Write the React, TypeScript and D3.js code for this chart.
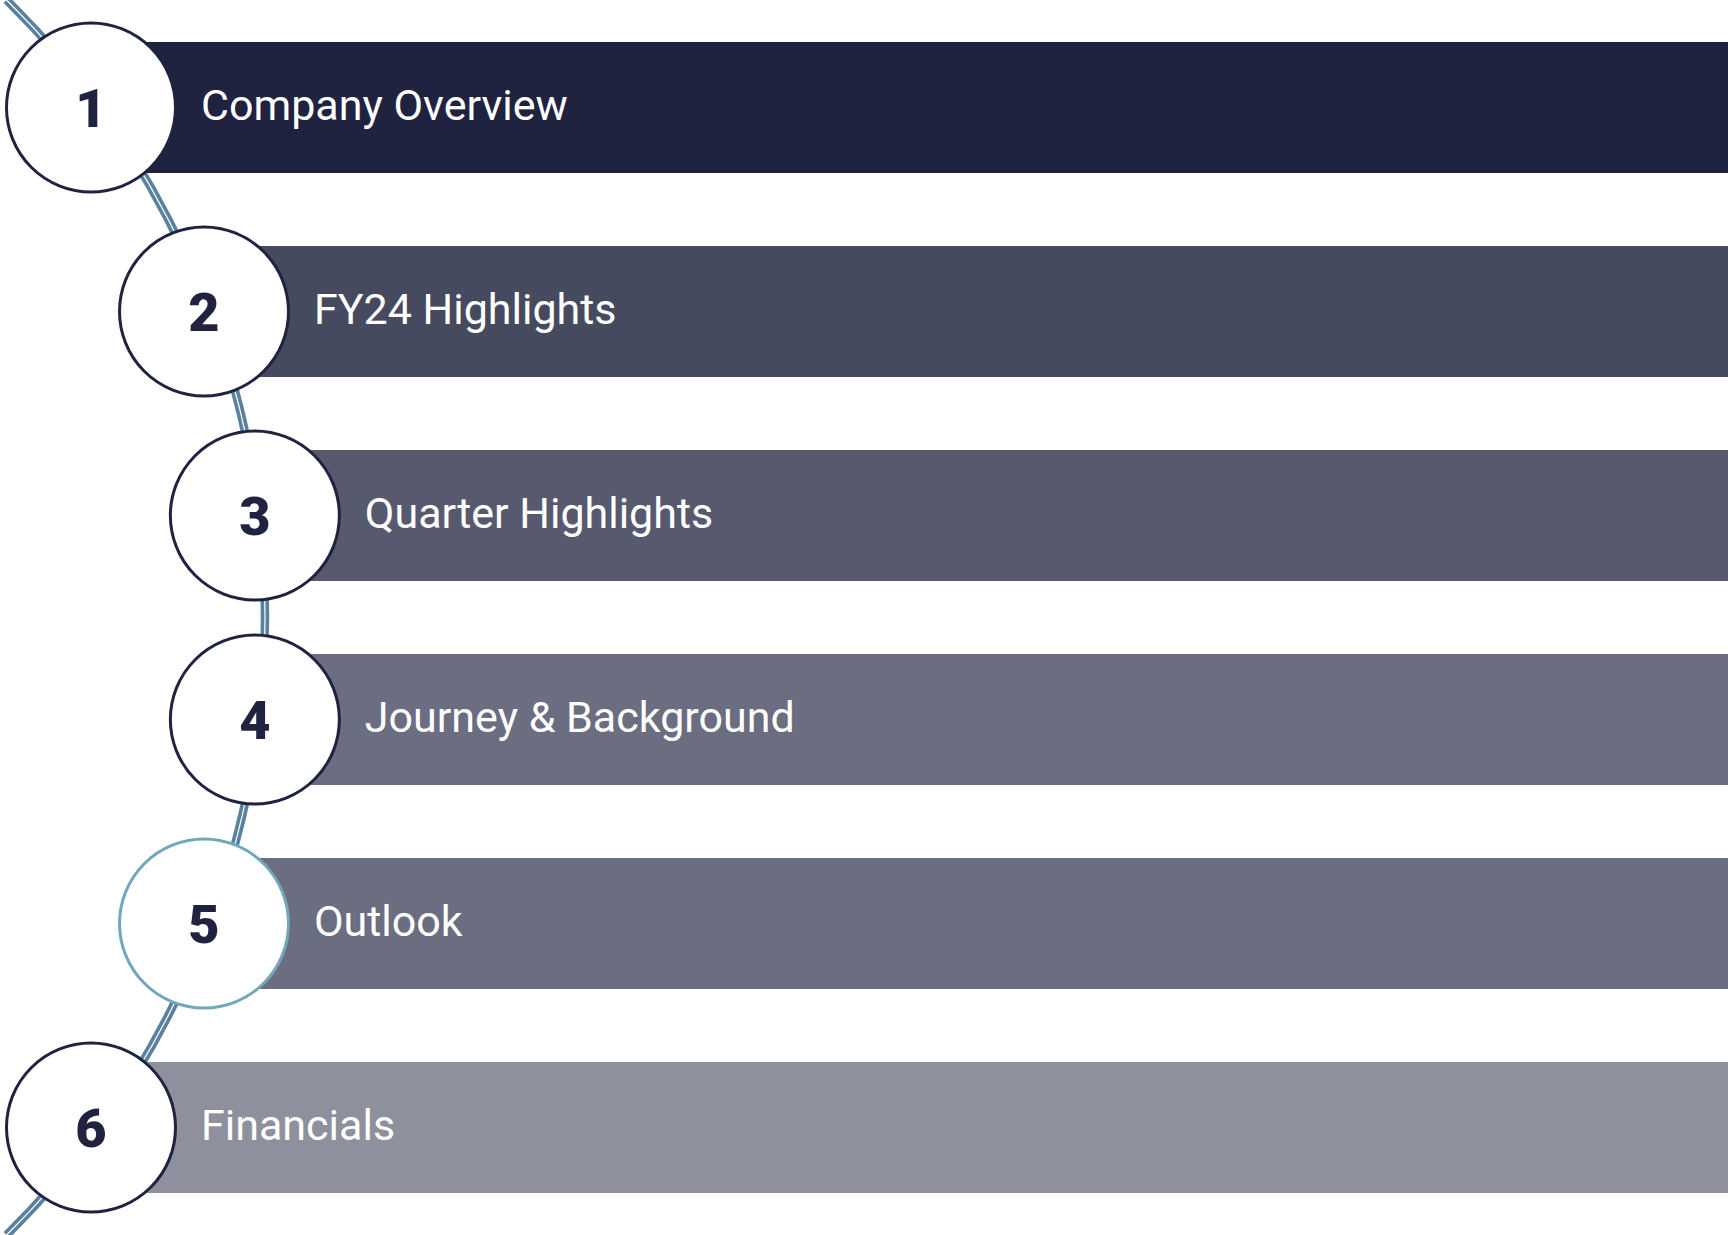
import React from "react";
import * as d3 from "d3";

// ---- data ----
const stepNumbers = ["1", "2", "3", "4", "5", "6"];
const stepLabels = [
  "Company Overview",
  "FY24 Highlights",
  "Quarter Highlights",
  "Journey & Background",
  "Outlook",
  "Financials",
];
const highlightedStep = "5";

// ---- styles / layout ----
const W = 1728;
const H = 1235;
const barFills = ["#1f2340", "#464a5f", "#575a6f", "#6b6d80", "#6b6d80", "#8e909d"];
const navy = "#1f2340";
const connectorColor = "#5a819e";
const highlightStroke = "#72a6bb";

// big arc through which the connector runs (center to the left of the page)
const arcCx = -602;
const arcR = 867;
// arc on which the circle centres lie
const circCx = -589;
const circR = 850;
const circleR = 84.5;
const labelOffset = 110;
const labelFont = "Roboto, 'Liberation Sans', sans-serif";

export default function App() {
  const y = d3
    .scaleBand<string>()
    .domain(stepNumbers)
    .range([42, 1193])
    .paddingInner(73 / 204)
    .paddingOuter(0);

  const midY = (y.range()[0] + y.range()[1]) / 2;
  const arcX = (cy: number, cx: number, r: number) =>
    cx + Math.sqrt(Math.max(0, r * r - (cy - midY) * (cy - midY)));

  const p = d3.path();
  const y0 = 0;
  const y1 = H;
  p.moveTo(arcX(y0, arcCx, arcR), y0);
  const a0 = Math.atan2(y0 - midY, arcX(y0, arcCx, arcR) - arcCx);
  const a1 = Math.atan2(y1 - midY, arcX(y1, arcCx, arcR) - arcCx);
  p.arc(arcCx, midY, arcR, a0, a1, false);
  const connector = p.toString();

  return (
    <svg
      width={W}
      height={H}
      viewBox={`0 0 ${W} ${H}`}
      style={{ position: "absolute", left: 0, top: 0, background: "#ffffff" }}
    >
      <path d={connector} fill="none" stroke={connectorColor} strokeWidth={8.5} />
      <path d={connector} fill="none" stroke="#ffffff" strokeWidth={1.2} />
      {stepNumbers.map((n, i) => {
        const top = y(n)!;
        const bh = y.bandwidth();
        const cy = top + bh / 2;
        const cx = arcX(cy, circCx, circR);
        return (
          <g key={n}>
            <rect x={cx} y={top} width={W - cx} height={bh} fill={barFills[i]} />
            <text
              x={cx + labelOffset}
              y={cy + 12.5}
              fill="#ffffff"
              fontFamily={labelFont}
              fontSize={43}
            >
              {stepLabels[i]}
            </text>
          </g>
        );
      })}
      {stepNumbers.map((n) => {
        const top = y(n)!;
        const cy = top + y.bandwidth() / 2;
        const cx = arcX(cy, circCx, circR);
        return (
          <g key={"c" + n}>
            <circle
              cx={cx}
              cy={cy}
              r={circleR}
              fill="#ffffff"
              stroke={n === highlightedStep ? highlightStroke : navy}
              strokeWidth={3}
            />
            <text
              x={cx}
              y={cy + 19.5}
              textAnchor="middle"
              fill={navy}
              fontFamily="Roboto, 'Liberation Sans', sans-serif"
              fontWeight={900}
              fontSize={54}
            >
              {n}
            </text>
          </g>
        );
      })}
    </svg>
  );
}
